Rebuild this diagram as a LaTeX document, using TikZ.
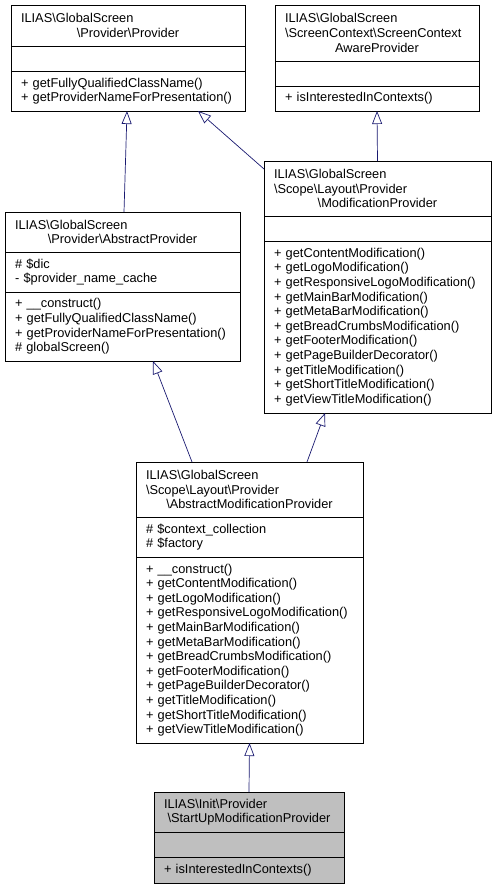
\documentclass[tikz,border=0pt]{standalone}
\usepackage{fontspec}
\setmainfont{Liberation Sans}
\usetikzlibrary{arrows.meta}

\newcommand{\bksl}{\textbackslash}
\definecolor{edgeblue}{HTML}{191970}
\definecolor{leafgray}{HTML}{BFBFBF}

\tikzset{
  compart/.style={draw=black, line width=0.7pt, anchor=north west, align=left,
    inner xsep=10pt, inner ysep=0pt, outer sep=0pt,
    font=\fontsize{12.8}{14.6}\selectfont,
    execute at begin node={\hyphenpenalty=10000\relax}},
  inherit/.style={draw=edgeblue, line width=0.7pt, -{Triangle[open, length=13pt, width=10pt]}},
}

\begin{document}
\begin{tikzpicture}[x=1pt,y=-1pt]

\useasboundingbox (0,0) rectangle (496,889);

%provider
\node[compart, text width=214pt, minimum width=234pt, minimum height=41pt] (provT) at (11,5)
  {ILIAS\bksl GlobalScreen\\\makebox[\hsize]{\bksl Provider\bksl Provider}};
\node[compart, text width=214pt, minimum width=234pt, minimum height=25pt] (provA) at (provT.south west) {};
\node[compart, text width=214pt, minimum width=234pt, minimum height=40pt] (provM) at (provA.south west)
  {+ getFullyQualifiedClassName()\\+ getProviderNameForPresentation()};

%screen context aware provider
\node[compart, text width=184pt, minimum width=204pt, minimum height=56pt] (scapT) at (275,5)
  {ILIAS\bksl GlobalScreen\\\bksl ScreenContext\bksl ScreenContext\\\makebox[\hsize]{AwareProvider}};
\node[compart, text width=184pt, minimum width=204pt, minimum height=25pt] (scapA) at (scapT.south west) {};
\node[compart, text width=184pt, minimum width=204pt, minimum height=25pt] (scapM) at (scapA.south west)
  {+ isInterestedInContexts()};

%modification provider
\node[compart, text width=207pt, minimum width=227pt, minimum height=55pt] (modT) at (264,161)
  {ILIAS\bksl GlobalScreen\\\bksl Scope\bksl Layout\bksl Provider\\\makebox[\hsize]{\bksl ModificationProvider}};
\node[compart, text width=207pt, minimum width=227pt, minimum height=25pt] (modA) at (modT.south west) {};
\node[compart, text width=207pt, minimum width=227pt, minimum height=172pt] (modM) at (modA.south west)
  {+ getContentModification()\\+ getLogoModification()\\+ getResponsiveLogoModification()\\
   + getMainBarModification()\\+ getMetaBarModification()\\+ getBreadCrumbsModification()\\
   + getFooterModification()\\+ getPageBuilderDecorator()\\+ getTitleModification()\\
   + getShortTitleModification()\\+ getViewTitleModification()};

%abstract provider
\node[compart, text width=215pt, minimum width=235pt, minimum height=40pt] (absT) at (5,212)
  {ILIAS\bksl GlobalScreen\\\makebox[\hsize]{\bksl Provider\bksl AbstractProvider}};
\node[compart, text width=215pt, minimum width=235pt, minimum height=40pt] (absA) at (absT.south west)
  {\# \$dic\\- \$provider\_name\_cache};
\node[compart, text width=215pt, minimum width=235pt, minimum height=69pt] (absM) at (absA.south west)
  {+ \_\_construct()\\+ getFullyQualifiedClassName()\\+ getProviderNameForPresentation()\\\# globalScreen()};

%abstract modification provider
\node[compart, text width=207pt, minimum width=227pt, minimum height=55pt] (ampT) at (136,462)
  {ILIAS\bksl GlobalScreen\\\bksl Scope\bksl Layout\bksl Provider\\\makebox[\hsize]{\bksl AbstractModificationProvider}};
\node[compart, text width=207pt, minimum width=227pt, minimum height=40pt] (ampA) at (ampT.south west)
  {\# \$context\_collection\\\# \$factory};
\node[compart, text width=207pt, minimum width=227pt, minimum height=186pt] (ampM) at (ampA.south west)
  {+ \_\_construct()\\+ getContentModification()\\+ getLogoModification()\\+ getResponsiveLogoModification()\\
   + getMainBarModification()\\+ getMetaBarModification()\\+ getBreadCrumbsModification()\\
   + getFooterModification()\\+ getPageBuilderDecorator()\\+ getTitleModification()\\
   + getShortTitleModification()\\+ getViewTitleModification()};

%startup modification provider
\node[compart, fill=leafgray, text width=170pt, minimum width=190pt, minimum height=40pt] (startT) at (154,792)
  {ILIAS\bksl Init\bksl Provider\\\makebox[\hsize]{\bksl StartUpModificationProvider}};
\node[compart, fill=leafgray, text width=170pt, minimum width=190pt, minimum height=25pt] (startA) at (startT.south west) {};
\node[compart, fill=leafgray, text width=170pt, minimum width=190pt, minimum height=26pt] (startM) at (startA.south west)
  {+ isInterestedInContexts()};

%inheritance
\draw[inherit] ([xshift=1.5]absT.north) -- ([xshift=-1]provM.south);
\draw[inherit] ([yshift=-8]modT.north west) -- ([xshift=70]provM.south);
\draw[inherit] (modT.north) -- (scapM.south);
\draw[inherit] ([xshift=-57.5]ampT.north) -- ([xshift=30.5]absM.south);
\draw[inherit] ([xshift=57.5]ampT.north) -- ([xshift=-52.5]modM.south);
\draw[inherit] (startT.north) -- (ampM.south);

\end{tikzpicture}
\end{document}
